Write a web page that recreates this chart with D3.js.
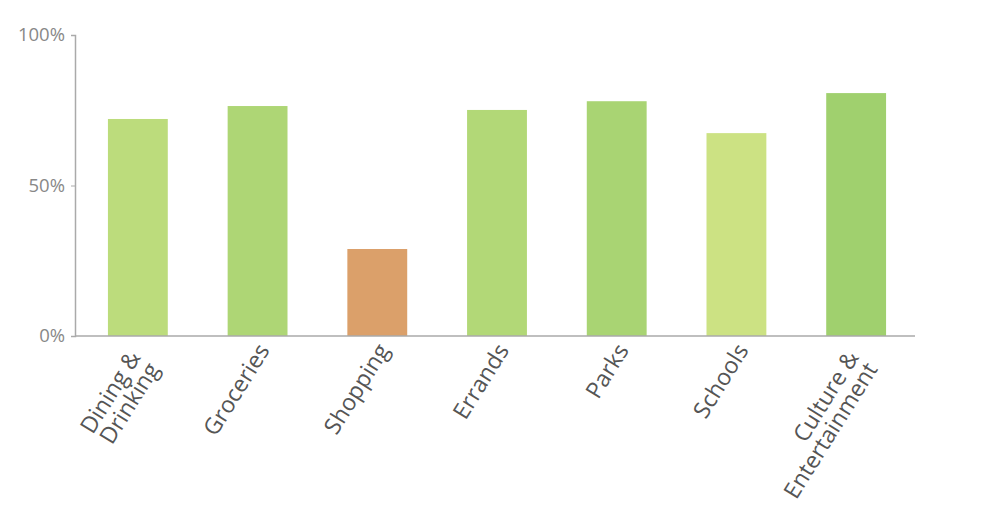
<!DOCTYPE html>
<html>
<head>
  <meta charset="utf-8">
  <style>
    body { margin: 0; background: #fff; }
    #chart { width: 988px; height: 512px; }
    text { font-family: "Open Sans", sans-serif; }
  </style>
</head>
<body>
  <div id="chart"></div>
  <script src="https://d3js.org/d3.v7.min.js"></script>
  <script>
    // category labels (lines split on "|")
    var categories = ["Dining &|Drinking", "Groceries", "Shopping", "Errands", "Parks", "Schools", "Culture &|Entertainment"]
    // share of trips
    var values = [0.721, 0.764, 0.289, 0.751, 0.780, 0.674, 0.807]
    var yTicks = [0, 0.5, 1]

    var width = 988, height = 512
    var margin = {top: 35, left: 75, right: 73, bottom: 176}

    var svg = d3.select("#chart").append("svg")
        .attr("width", width)
        .attr("height", height)

    var x = d3.scaleBand()
        .domain(categories)
        .range([margin.left + 3, width - margin.right + 1])
        .paddingInner(0.5)
        .paddingOuter(0.25)

    var y = d3.scaleLinear()
        .domain([0, 1])
        .range([height - margin.bottom, margin.top])

    // colour follows the value, orange for low and green for high
    var color = d3.scaleLinear()
        .domain([0.29, 0.67, 0.81])
        .range(["#dba06a", "#cde384", "#9fd06e"])

    var data = categories.map(function (c, i) { return {cat: c, value: values[i]} })

    svg.append("g")
        .selectAll("rect")
        .data(data)
        .enter().append("rect")
        .attr("x", d => x(d.cat))
        .attr("y", d => y(d.value))
        .attr("width", x.bandwidth())
        .attr("height", d => y(0) - y(d.value))
        .attr("fill", d => color(d.value))

    // y axis
    var yAxis = svg.append("g")
        .attr("transform", "translate(" + margin.left + ",0)")
        .call(d3.axisLeft(y).tickValues(yTicks).tickFormat(d3.format(".0%")).tickSize(4).tickPadding(6))
    yAxis.select(".domain").attr("stroke", "#aaa").attr("stroke-width", 1.5)
    yAxis.selectAll(".tick line").attr("stroke", "#aaa")
    yAxis.selectAll(".tick text")
        .attr("fill", "#888")
        .style("font-size", "18.5px")
        .style("font-family", "'Open Sans', sans-serif")

    // x axis baseline
    svg.append("line")
        .attr("x1", margin.left)
        .attr("x2", width - margin.right)
        .attr("y1", y(0))
        .attr("y2", y(0))
        .attr("stroke", "#aaa")
        .attr("stroke-width", 1.5)

    // rotated category labels
    var labels = svg.append("g")
        .selectAll("text")
        .data(categories)
        .enter().append("text")
        .attr("transform", d => "translate(" + (x(d) + x.bandwidth() / 2 + 6) + "," + (y(0) + 10) + ") rotate(-58)")
        .attr("text-anchor", "end")
        .attr("fill", "#555")
        .style("font-size", "23px")

    labels.each(function (d) {
      var lines = d.split("|")
      var t = d3.select(this)
      var multi = lines.length > 1
      lines.forEach(function (line, i) {
        t.append("tspan")
            .attr("x", multi ? -11 : 0)
            .attr("dy", i == 0 ? (multi ? "0.17em" : "0.35em") : "0.96em")
            .text(line)
      })
    })
  </script>
</body>
</html>
